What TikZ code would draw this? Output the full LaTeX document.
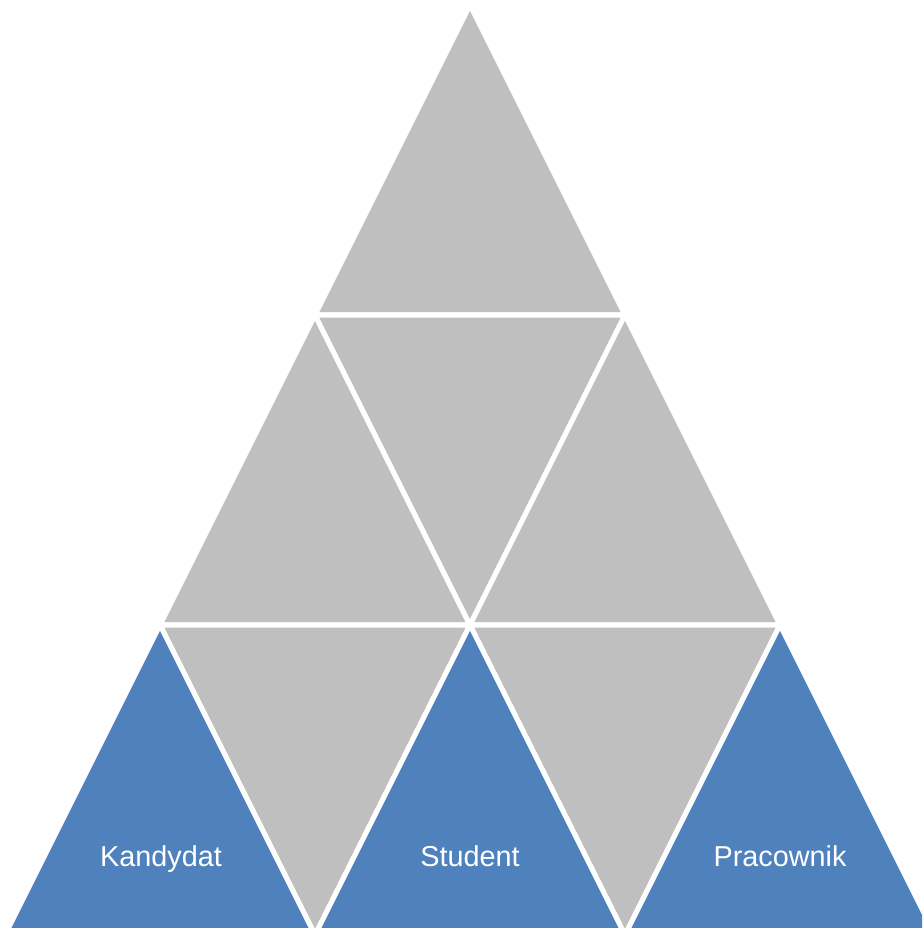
\documentclass[tikz,border=0pt]{standalone}
\usepackage{fontspec}
\setmainfont{Liberation Sans}
\usetikzlibrary{positioning}

\definecolor{tilegray}{HTML}{BFBFBF}
\definecolor{tileblue}{HTML}{4F81BD}

\tikzset{
  graytile/.style={fill=tilegray,draw=white,line width=2.9pt},
  bluetile/.style={fill=tileblue,draw=white,line width=2.9pt},
  tilelabel/.style={text=white,anchor=base,font=\fontsize{16.4}{19}\selectfont}
}

\begin{document}
\begin{tikzpicture}[x=0.02cm,y=-0.02cm]
    \useasboundingbox (0,0) rectangle (922,928);
    \clip (0,0) rectangle (922,928);

    % grid corners, row by row
    \coordinate (a) at (470,5);
    \coordinate (b1) at (315,315);
    \coordinate (b2) at (625,315);
    \coordinate (c1) at (160,625);
    \coordinate (c2) at (470,625);
    \coordinate (c3) at (780,625);
    \coordinate (d1) at (5,935);
    \coordinate (d2) at (315,935);
    \coordinate (d3) at (625,935);
    \coordinate (d4) at (935,935);

    % gray tiles
    \filldraw[graytile] (a) -- (b1) -- (b2) -- cycle;
    \filldraw[graytile] (b1) -- (c1) -- (c2) -- cycle;
    \filldraw[graytile] (b1) -- (b2) -- (c2) -- cycle;
    \filldraw[graytile] (b2) -- (c2) -- (c3) -- cycle;
    \filldraw[graytile] (c1) -- (c2) -- (d2) -- cycle;
    \filldraw[graytile] (c2) -- (c3) -- (d3) -- cycle;

    % blue tiles
    \filldraw[bluetile] (c1) -- (d1) -- (d2) -- cycle;
    \filldraw[bluetile] (c2) -- (d2) -- (d3) -- cycle;
    \filldraw[bluetile] (c3) -- (d3) -- (d4) -- cycle;

    \node[tilelabel] (kandydat) at (161,866) {Kandydat};
    \node[tilelabel] (student) at (470,866) {Student};
    \node[tilelabel] (pracownik) at (780,866) {Pracownik};
\end{tikzpicture}
\end{document}
